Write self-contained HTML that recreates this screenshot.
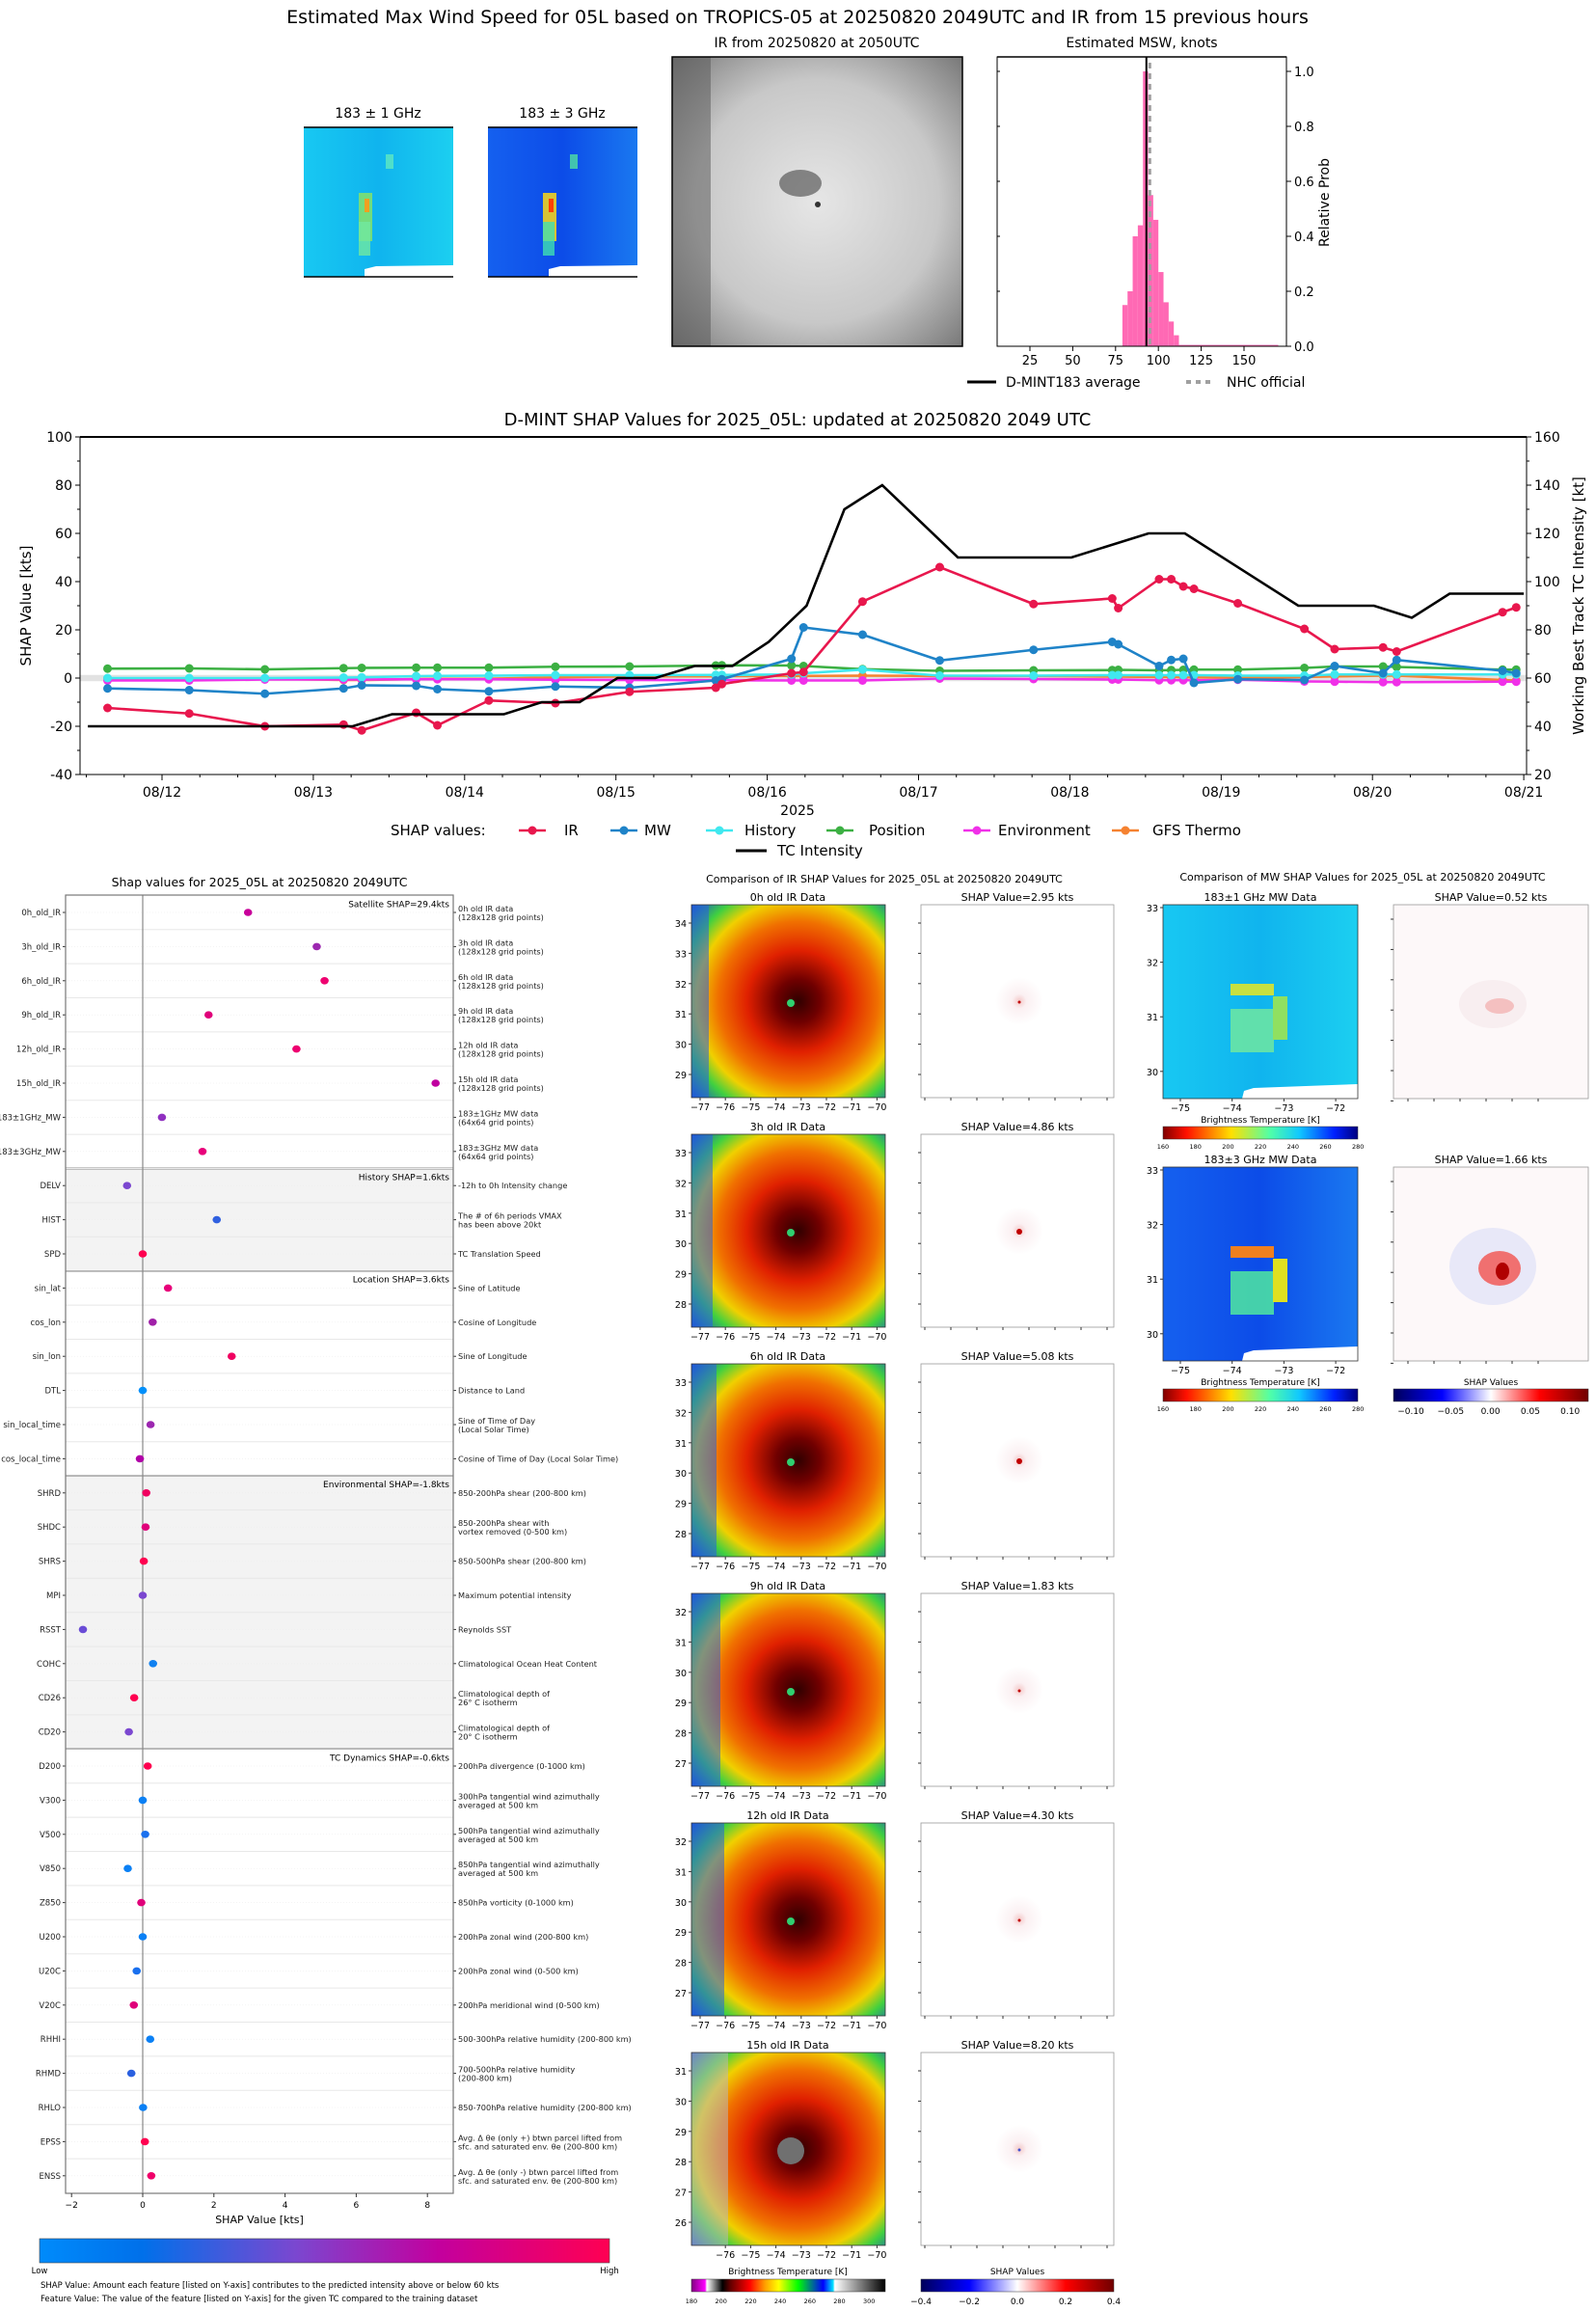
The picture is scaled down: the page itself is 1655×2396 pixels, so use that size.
<!DOCTYPE html>
<html><head><meta charset="utf-8">
<style>
html,body{margin:0;padding:0;background:#fff;}
svg{display:block;font-family:"DejaVu Sans","Liberation Sans",sans-serif;}
</style></head>
<body>
<svg id="root" width="1655" height="2396" viewBox="0 0 1655 2396" xmlns="http://www.w3.org/2000/svg">
<defs>
<linearGradient id="mw1" x1="0" y1="0" x2="1" y2="0"><stop offset="0" stop-color="#18c8f2"/><stop offset="0.5" stop-color="#10b4ee"/><stop offset="1" stop-color="#1ccff0"/></linearGradient>
<linearGradient id="mw3" x1="0" y1="0" x2="1" y2="0"><stop offset="0" stop-color="#1560ef"/><stop offset="0.5" stop-color="#0c4ce8"/><stop offset="1" stop-color="#1a78f0"/></linearGradient>
<radialGradient id="irgray" cx="0.5" cy="0.5" r="0.7"><stop offset="0" stop-color="#e6e6e6"/><stop offset="0.6" stop-color="#c8c8c8"/><stop offset="1" stop-color="#7a7a7a"/></radialGradient>
<radialGradient id="irc" cx="0.55" cy="0.5" r="0.75"><stop offset="0" stop-color="#300000"/><stop offset="0.15" stop-color="#700000"/><stop offset="0.35" stop-color="#e02000"/><stop offset="0.55" stop-color="#f07000"/><stop offset="0.7" stop-color="#f0d000"/><stop offset="0.82" stop-color="#40d040"/><stop offset="1" stop-color="#1040e0"/></radialGradient>
<radialGradient id="shapc" cx="0.5" cy="0.5" r="0.5"><stop offset="0" stop-color="#f4c8c8"/><stop offset="0.3" stop-color="#fbf0f2"/><stop offset="1" stop-color="#ffffff"/></radialGradient>
<linearGradient id="featcb" x1="0" y1="0" x2="1" y2="0"><stop offset="0" stop-color="#008bfb"/><stop offset="0.18" stop-color="#0070ea"/><stop offset="0.45" stop-color="#7b47d0"/><stop offset="0.7" stop-color="#c3009e"/><stop offset="1" stop-color="#ff0052"/></linearGradient>
<linearGradient id="jet" x1="0" y1="0" x2="1" y2="0"><stop offset="0" stop-color="#800000"/><stop offset="0.12" stop-color="#ff1000"/><stop offset="0.35" stop-color="#ffe000"/><stop offset="0.55" stop-color="#50ffa8"/><stop offset="0.7" stop-color="#10c8ff"/><stop offset="0.88" stop-color="#0020ff"/><stop offset="1" stop-color="#00007f"/></linearGradient>
<linearGradient id="bwr" x1="0" y1="0" x2="1" y2="0"><stop offset="0" stop-color="#00005a"/><stop offset="0.25" stop-color="#0000ff"/><stop offset="0.5" stop-color="#ffffff"/><stop offset="0.75" stop-color="#ff0000"/><stop offset="1" stop-color="#700000"/></linearGradient>
<linearGradient id="irtemp" x1="0" y1="0" x2="1" y2="0"><stop offset="0" stop-color="#800080"/><stop offset="0.07" stop-color="#ff00ff"/><stop offset="0.08" stop-color="#ffffff"/><stop offset="0.16" stop-color="#000000"/><stop offset="0.2" stop-color="#600000"/><stop offset="0.3" stop-color="#ff0000"/><stop offset="0.38" stop-color="#ffa000"/><stop offset="0.45" stop-color="#ffff00"/><stop offset="0.55" stop-color="#00ff00"/><stop offset="0.68" stop-color="#0000ff"/><stop offset="0.73" stop-color="#00e0ff"/><stop offset="0.74" stop-color="#ffffff"/><stop offset="1" stop-color="#000000"/></linearGradient>
</defs>
<g id="topg"></g>
<g id="main"></g>
<g id="feat"></g>
<g id="irp"></g>
<g id="mwp"></g>
</svg>
<script>
const NS="http://www.w3.org/2000/svg";
function mk(parent,tag,attrs,text){const e=document.createElementNS(NS,tag);for(const k in attrs)e.setAttribute(k,attrs[k]);if(text!==undefined)e.textContent=text;parent.appendChild(e);return e;}

/* ===== Main time-series chart data ===== */
const shapDays=[11.64,12.18,12.68,13.20,13.32,13.68,13.82,14.16,14.60,15.09,15.66,15.70,16.16,16.24,16.63,17.14,17.76,18.28,18.32,18.59,18.67,18.75,18.82,19.11,19.55,19.75,20.07,20.16,20.86,20.95];
const irVals=[-12.4,-14.7,-20,-19.3,-21.7,-14.4,-19.6,-9.3,-10.4,-5.7,-4,-2.5,2,2.5,31.7,46,30.7,33,29,41,41,38,37,31,20.4,12,12.7,11,27.3,29.3];
const mwVals=[-4.3,-5,-6.5,-4.3,-3,-3.2,-4.6,-5.5,-3.5,-4,-1,-0.5,8,21,18,7.3,11.7,15,14,5,7.5,8,-2,-0.5,-0.8,5,2,7.5,3,2];
const histVals=[0,0,0,0.2,0.3,0.8,0.9,1,1.2,1.2,1.3,1.3,1.5,2,3.5,1,1,1.2,1.2,1.2,1.2,1.2,1.2,1,1,1.5,1.5,1.5,1.5,1.5];
const posVals=[3.9,4,3.6,4.1,4.2,4.3,4.3,4.3,4.7,4.8,5.2,5.3,5.2,5,3.7,3,3.2,3.3,3.4,3.2,3.3,3.4,3.5,3.5,4.2,4.8,4.8,4.6,3.5,3.5];
const envVals=[-1,-1,-0.6,-0.6,-0.6,-0.5,-0.5,-0.5,-0.7,-0.8,-0.9,-0.9,-1,-1,-1,-0.2,-0.4,-0.6,-0.6,-0.9,-0.9,-0.9,-0.9,-0.7,-1.4,-1.5,-1.7,-1.7,-1.5,-1.5];
const gfsVals=[-0.2,-0.2,-0.3,-0.8,-0.8,-0.4,-0.3,-0.3,0.3,0.7,0.7,0.8,0.9,0.9,1,0.9,0.9,0.6,0.6,0.4,0.4,0.3,0.3,0.1,0.4,0.7,1,1,-0.8,-1];
const tcDays=[11.51,13.26,13.52,14.26,14.51,14.76,15.01,15.26,15.52,15.77,16.01,16.26,16.51,16.76,17.26,18.01,18.52,18.76,19.51,20.01,20.26,20.51,21.0];
const tcVals=[40,40,45,45,50,50,60,60,65,65,75,90,130,140,110,110,120,120,90,90,85,95,95];
const xTickLabels=["08/12","08/13","08/14","08/15","08/16","08/17","08/18","08/19","08/20","08/21"];
const yLeftTicks=[-40,-20,0,20,40,60,80,100];
const yRightTicks=[20,40,60,80,100,120,140,160];

/* ===== Histogram data ===== */
const histBinStart=[79,82,85,88,91,94,97,100,103,106,109,112];
const histProb=[0.15,0.2,0.40,0.44,1.0,0.55,0.46,0.27,0.16,0.09,0.04,0.005];
const histTicks=[25,50,75,100,125,150];
const histYTicks=[0,0.2,0.4,0.6,0.8,1.0];
const dmintAvg=93;
const nhcOfficial=95;

/* ===== Feature SHAP data ===== */
const featNames=["0h_old_IR","3h_old_IR","6h_old_IR","9h_old_IR","12h_old_IR","15h_old_IR","183±1GHz_MW","183±3GHz_MW","DELV","HIST","SPD","sin_lat","cos_lon","sin_lon","DTL","sin_local_time","cos_local_time","SHRD","SHDC","SHRS","MPI","RSST","COHC","CD26","CD20","D200","V300","V500","V850","Z850","U200","U20C","V20C","RHHI","RHMD","RHLO","EPSS","ENSS"];
const featVals=[2.96,4.89,5.11,1.85,4.32,8.23,0.54,1.68,-0.44,2.08,0,0.71,0.28,2.5,0,0.22,-0.08,0.1,0.08,0.03,0,-1.68,0.29,-0.24,-0.39,0.14,0,0.07,-0.42,-0.04,0,-0.17,-0.25,0.21,-0.32,0.01,0.06,0.24];
const featColors=["#c8009a","#9c27b0","#ee0070","#e0007a","#ee0070","#c000a0","#9030c0","#e8007a","#7b47d0","#3060e0","#ff0050","#e8007a","#a020a8","#f00060","#0090fb","#9c27b0","#b000a8","#f00060","#e0007a","#ff0050","#7b47d0","#6a4cd6","#1080f0","#ff0050","#7b47d0","#ff0050","#0a80f5","#1a70ee","#0a80f5","#e0007a","#0a80f5","#1a70ee","#e0007a","#0a80f5","#2a60e0","#0a80f5","#ff0050","#f0006a"];
const featDesc=[["0h old IR data","(128x128 grid points)"],["3h old IR data","(128x128 grid points)"],["6h old IR data","(128x128 grid points)"],["9h old IR data","(128x128 grid points)"],["12h old IR data","(128x128 grid points)"],["15h old IR data","(128x128 grid points)"],["183±1GHz MW data","(64x64 grid points)"],["183±3GHz MW data","(64x64 grid points)"],["-12h to 0h Intensity change"],["The # of 6h periods VMAX","has been above 20kt"],["TC Translation Speed"],["Sine of Latitude"],["Cosine of Longitude"],["Sine of Longitude"],["Distance to Land"],["Sine of Time of Day","(Local Solar Time)"],["Cosine of Time of Day (Local Solar Time)"],["850-200hPa shear (200-800 km)"],["850-200hPa shear with","vortex removed (0-500 km)"],["850-500hPa shear (200-800 km)"],["Maximum potential intensity"],["Reynolds SST"],["Climatological Ocean Heat Content"],["Climatological depth of","26° C isotherm"],["Climatological depth of","20° C isotherm"],["200hPa divergence (0-1000 km)"],["300hPa tangential wind azimuthally","averaged at 500 km"],["500hPa tangential wind azimuthally","averaged at 500 km"],["850hPa tangential wind azimuthally","averaged at 500 km"],["850hPa vorticity (0-1000 km)"],["200hPa zonal wind (200-800 km)"],["200hPa zonal wind (0-500 km)"],["200hPa meridional wind (0-500 km)"],["500-300hPa relative humidity (200-800 km)"],["700-500hPa relative humidity","(200-800 km)"],["850-700hPa relative humidity (200-800 km)"],["Avg. Δ θe (only +) btwn parcel lifted from","sfc. and saturated env. θe (200-800 km)"],["Avg. Δ θe (only -) btwn parcel lifted from","sfc. and saturated env. θe (200-800 km)"]];
const groupStart=[0,8,11,17,25];
const groupTitles=["Satellite SHAP=29.4kts","History SHAP=1.6kts","Location SHAP=3.6kts","Environmental SHAP=-1.8kts","TC Dynamics SHAP=-0.6kts"];
const groupShaded=[false,true,false,true,false];
const featXTicks=[-2,0,2,4,6,8];

/* ===== IR / MW panel labels ===== */
const irTitles=["0h old IR Data","3h old IR Data","6h old IR Data","9h old IR Data","12h old IR Data","15h old IR Data"];
const irShap=["SHAP Value=2.95 kts","SHAP Value=4.86 kts","SHAP Value=5.08 kts","SHAP Value=1.83 kts","SHAP Value=4.30 kts","SHAP Value=8.20 kts"];
const irLatTop=[34,33,33,32,32,31];
const irLonStart=[-77,-77,-77,-77,-77,-76];

/* ========== TOP SECTION ========== */
const topG=document.getElementById('topg');
let t=mk(topG,'text',{x:827,y:24,'text-anchor':'middle','font-size':19},'Estimated Max Wind Speed for 05L based on TROPICS-05 at 20250820 2049UTC and IR from 15 previous hours');


[[315,'url(#mw1)','183 ± 1 GHz','mw-183-1-image'],[506,'url(#mw3)','183 ± 3 GHz','mw-183-3-image']].forEach((p,i)=>{
  const g=mk(topG,'g',{});
  
  
  mk(g,'text',{x:p[0]+77,y:122,'text-anchor':'middle','font-size':14},p[2]);
  mk(g,'rect',{x:p[0],y:132,width:155,height:155,fill:p[1]});
  mk(g,'rect',{x:p[0]+57,y:200,width:14,height:50,fill:i?'#f0d020':'#7ee070',opacity:0.9});
  mk(g,'rect',{x:p[0]+57,y:230,width:12,height:35,fill:i?'#40e0b0':'#70e8a0',opacity:0.8});
  mk(g,'rect',{x:p[0]+85,y:160,width:8,height:15,fill:i?'#50e0a0':'#60e8c0',opacity:0.8});
  mk(g,'rect',{x:p[0]+63,y:206,width:5,height:14,fill:i?'#ff4000':'#f0a020'});
  mk(g,'polygon',{points:`${p[0]+63},287 ${p[0]+63},279 ${p[0]+75},276 ${p[0]+155},275 ${p[0]+155},287`,fill:'#fff'});
  mk(g,'line',{x1:p[0],y1:132,x2:p[0]+155,y2:132,stroke:'#000','stroke-width':1.5});
  mk(g,'line',{x1:p[0],y1:287,x2:p[0]+155,y2:287,stroke:'#000','stroke-width':1.5});
});
const irg=mk(topG,'g',{});


mk(irg,'text',{x:847,y:49,'text-anchor':'middle','font-size':14},'IR from 20250820 at 2050UTC');
mk(irg,'rect',{x:697,y:59,width:301,height:300,fill:'url(#irgray)'});
mk(irg,'rect',{x:697,y:59,width:40,height:300,fill:'#555',opacity:0.5});
mk(irg,'ellipse',{cx:830,cy:190,rx:22,ry:14,fill:'#444',opacity:0.6});
mk(irg,'circle',{cx:848,cy:212,r:3,fill:'#333'});
mk(irg,'rect',{x:697,y:59,width:301,height:300,fill:'none',stroke:'#000','stroke-width':1.5});
const hg=mk(topG,'g',{});


const hx=v=>1068+(v-25)*1.776, hy=p=>359-p*285;
mk(hg,'text',{x:1184,y:49,'text-anchor':'middle','font-size':14},'Estimated MSW, knots');
histBinStart.forEach((b,i)=>{
  const w=(i===histBinStart.length-1)?58:3;
  const r=mk(hg,'rect',{x:hx(b),y:hy(histProb[i]),width:hx(b+w)-hx(b),height:359-hy(histProb[i]),fill:'#ff69b4'});
  
  
});
const ml=mk(hg,'line',{x1:hx(nhcOfficial),y1:65,x2:hx(nhcOfficial),y2:359,stroke:'#a0a0a0','stroke-width':3,'stroke-dasharray':'6,5'});


const al=mk(hg,'line',{x1:hx(dmintAvg),y1:59,x2:hx(dmintAvg),y2:359,stroke:'#000','stroke-width':2});


mk(hg,'rect',{x:1034,y:59,width:300,height:300,fill:'none',stroke:'#000','stroke-width':1});
mk(hg,'line',{x1:1034,y1:59,x2:1334,y2:59,stroke:'#000','stroke-width':1.5});
histTicks.forEach(v=>{mk(hg,'line',{x1:hx(v),y1:359,x2:hx(v),y2:364,stroke:'#000'});mk(hg,'text',{x:hx(v),y:378,'text-anchor':'middle','font-size':13},v);});
histYTicks.forEach(v=>{mk(hg,'line',{x1:1334,y1:hy(v),x2:1339,y2:hy(v),stroke:'#000'});mk(hg,'line',{x1:1034,y1:hy(v),x2:1037,y2:hy(v),stroke:'#000'});mk(hg,'text',{x:1342,y:hy(v)+5,'font-size':13},v.toFixed(1));});
mk(hg,'text',{x:0,y:0,transform:'translate(1378,210) rotate(-90)','text-anchor':'middle','font-size':14},'Relative Prob');
const hl=mk(hg,'g',{});


mk(hl,'line',{x1:1003,y1:396,x2:1033,y2:396,stroke:'#000','stroke-width':3});
mk(hl,'text',{x:1043,y:401,'font-size':14},'D-MINT183 average');
mk(hl,'line',{x1:1230,y1:396,x2:1260,y2:396,stroke:'#a0a0a0','stroke-width':4,'stroke-dasharray':'5,5'});
mk(hl,'text',{x:1272,y:401,'font-size':14},'NHC official');

/* ========== MAIN CHART ========== */
const mainG=document.getElementById('main');
const X0=83,X1=1583,Y0=453,Y1=803;
const xs=d=>168+(d-12)*156.9;
const ys=v=>Y0+(100-v)*2.5;
const yr=v=>Y0+(160-v)*2.5;
t=mk(mainG,'text',{x:827,y:441,'text-anchor':'middle','font-size':18},'D-MINT SHAP Values for 2025_05L: updated at 20250820 2049 UTC');


mk(mainG,'rect',{x:X0,y:ys(1.3),width:X1-X0,height:ys(-1.3)-ys(1.3),fill:'#e2e2e2'});
mk(mainG,'rect',{x:X0,y:Y0,width:X1-X0,height:Y1-Y0,fill:'none',stroke:'#000','stroke-width':1});
mk(mainG,'line',{x1:X0,y1:Y0,x2:X1,y2:Y0,stroke:'#000','stroke-width':2});
yLeftTicks.forEach(v=>{mk(mainG,'line',{x1:X0-5,y1:ys(v),x2:X0,y2:ys(v),stroke:'#000'});mk(mainG,'text',{x:X0-8,y:ys(v)+5,'text-anchor':'end','font-size':14},v);});
for(let v=-30;v<100;v+=20)mk(mainG,'line',{x1:X0-3,y1:ys(v),x2:X0,y2:ys(v),stroke:'#000'});
yRightTicks.forEach(v=>{mk(mainG,'line',{x1:X1,y1:yr(v),x2:X1+5,y2:yr(v),stroke:'#000'});mk(mainG,'text',{x:X1+8,y:yr(v)+5,'font-size':14},v);});
for(let v=30;v<160;v+=20)mk(mainG,'line',{x1:X1,y1:yr(v),x2:X1+3,y2:yr(v),stroke:'#000'});
xTickLabels.forEach((l,i)=>{const x=xs(12+i);mk(mainG,'line',{x1:x,y1:Y1,x2:x,y2:Y1+6,stroke:'#000'});mk(mainG,'text',{x:x,y:Y1+23,'text-anchor':'middle','font-size':14},l);});
for(let d=11.5;d<21;d+=0.25){if(Math.abs(d-Math.round(d))>0.01)mk(mainG,'line',{x1:xs(d),y1:Y1,x2:xs(d),y2:Y1+3,stroke:'#000'});}
mk(mainG,'text',{x:827,y:845,'text-anchor':'middle','font-size':14},'2025');
mk(mainG,'text',{x:0,y:0,transform:'translate(32,628) rotate(-90)','text-anchor':'middle','font-size':15},'SHAP Value [kts]');
mk(mainG,'text',{x:0,y:0,transform:'translate(1642,628) rotate(-90)','text-anchor':'middle','font-size':15},'Working Best Track TC Intensity [kt]');
const series=[["IR",irVals,"#e8174d"],["MW",mwVals,"#1f83c8"],["History",histVals,"#40e8ef"],["Position",posVals,"#3cb043"],["Environment",envVals,"#f030e8"],["GFS Thermo",gfsVals,"#f58231"]];
series.slice().reverse().forEach(s=>{
  const g=mk(mainG,'g',{});
  
  
  mk(g,'polyline',{points:shapDays.map((d,i)=>xs(d)+','+ys(s[1][i])).join(' '),fill:'none',stroke:s[2],'stroke-width':2.6});
  shapDays.forEach((d,i)=>{
    const c=mk(g,'circle',{cx:xs(d),cy:ys(s[1][i]),r:4.5,fill:s[2]});
    
    
  });
});
const tcl=mk(mainG,'polyline',{points:tcDays.map((d,i)=>xs(d)+','+yr(tcVals[i])).join(' '),fill:'none',stroke:'#000','stroke-width':2.6});


const lg=mk(mainG,'g',{});


mk(lg,'text',{x:405,y:866,'font-size':15},'SHAP values:');
const legX=[[538,585],[633,668],[732,772],[857,901],[999,1035],[1153,1195]];
series.forEach((s,i)=>{
  const e=mk(lg,'g',{});
  
  
  mk(e,'line',{x1:legX[i][0],y1:861,x2:legX[i][0]+28,y2:861,stroke:s[2],'stroke-width':2.6});
  mk(e,'circle',{cx:legX[i][0]+14,cy:861,r:4.5,fill:s[2]});
  mk(e,'text',{x:legX[i][1],y:866,'font-size':15},s[0]);
});
mk(lg,'line',{x1:763,y1:882,x2:795,y2:882,stroke:'#000','stroke-width':3});
mk(lg,'text',{x:806,y:887,'font-size':15},'TC Intensity');

/* ========== FEATURE SHAP PANEL ========== */
const fe=document.getElementById('feat');
const FX0=68,FX1=470,FT=928,FB=2274,RS=35.4;
const fx=v=>148+v*36.9, fy=i=>946+i*RS;
t=mk(fe,'text',{x:269,y:919,'text-anchor':'middle','font-size':12.5},'Shap values for 2025_05L at 20250820 2049UTC');


groupStart.forEach((s,gi)=>{
  const e=(gi<groupStart.length-1)?groupStart[gi+1]:featNames.length;
  const y0=fy(s)-RS/2,y1=fy(e)-RS/2;
  if(groupShaded[gi])mk(fe,'rect',{x:FX0,y:y0,width:FX1-FX0,height:y1-y0,fill:'#f3f3f3'});
  const tt=mk(fe,'text',{x:FX1-4,y:y0+12,'text-anchor':'end','font-size':9},groupTitles[gi]);
  
  
  if(gi>0)mk(fe,'line',{x1:FX0,y1:y0,x2:FX1,y2:y0,stroke:'#222','stroke-width':1.5});
});
featNames.forEach((n,i)=>{
  const y=fy(i);
  if(i>0)mk(fe,'line',{x1:FX0,y1:y-RS/2,x2:FX1,y2:y-RS/2,stroke:'#e8e8e8','stroke-width':1});
  mk(fe,'line',{x1:FX0,y1:y,x2:FX1,y2:y,stroke:'#eee','stroke-width':0.6,'stroke-dasharray':'1,2'});
  mk(fe,'line',{x1:FX0-3,y1:y,x2:FX0,y2:y,stroke:'#333'});
  mk(fe,'line',{x1:FX1,y1:y,x2:FX1+3,y2:y,stroke:'#333'});
  const lab=mk(fe,'text',{x:FX0-5,y:y+3,'text-anchor':'end','font-size':8.5,fill:'#222'},n);
  
  
  const d=featDesc[i];
  if(d.length===1)mk(fe,'text',{x:FX1+5,y:y+3,'font-size':8.2,fill:'#222'},d[0]);
  else{mk(fe,'text',{x:FX1+5,y:y-1,'font-size':8.2,fill:'#222'},d[0]);mk(fe,'text',{x:FX1+5,y:y+8,'font-size':8.2,fill:'#222'},d[1]);}
});
mk(fe,'line',{x1:fx(0),y1:FT,x2:fx(0),y2:FB,stroke:'#888','stroke-width':1.2});
featNames.forEach((n,i)=>{
  const c=mk(fe,'ellipse',{cx:fx(featVals[i]),cy:fy(i),rx:4.3,ry:3.8,fill:featColors[i]});
  
  
});
mk(fe,'rect',{x:FX0,y:FT,width:FX1-FX0,height:FB-FT,fill:'none',stroke:'#777','stroke-width':1.2});
featXTicks.forEach(v=>{mk(fe,'line',{x1:fx(v),y1:FB,x2:fx(v),y2:FB+4,stroke:'#333'});mk(fe,'text',{x:fx(v),y:FB+15,'text-anchor':'middle','font-size':9},v===-2?'−2':v);});
mk(fe,'text',{x:269,y:FB+31,'text-anchor':'middle','font-size':11},'SHAP Value [kts]');
const fcb=mk(fe,'rect',{x:41,y:2321,width:591,height:25,fill:'url(#featcb)',stroke:'#444','stroke-width':0.6});


mk(fe,'text',{x:41,y:2357,'text-anchor':'middle','font-size':8.5},'Low');
mk(fe,'text',{x:632,y:2357,'text-anchor':'middle','font-size':8.5},'High');
mk(fe,'text',{x:42,y:2372,'font-size':8.5},'SHAP Value: Amount each feature [listed on Y-axis] contributes to the predicted intensity above or below 60 kts');
mk(fe,'text',{x:42,y:2386,'font-size':8.5},'Feature Value: The value of the feature [listed on Y-axis] for the given TC compared to the training dataset');

/* ========== IR PANELS ========== */
const irG=document.getElementById('irp');
t=mk(irG,'text',{x:917,y:915,'text-anchor':'middle','font-size':11},'Comparison of IR SHAP Values for 2025_05L at 20250820 2049UTC');


irTitles.forEach((tt,i)=>{
  const y=938+i*238;
  const g=mk(irG,'g',{});
  
  
  mk(g,'text',{x:817,y:y-4,'text-anchor':'middle','font-size':11},tt);
  mk(g,'rect',{x:717,y:y,width:201,height:200,fill:'url(#irc)'});
  mk(g,'rect',{x:717,y:y,width:18+i*4,height:200,fill:i===5?'#b8b8b8':'#2860e0',opacity:0.55});
  mk(g,'circle',{cx:820,cy:y+102,r:i===5?14:4,fill:i===5?'#707070':'#30d070'});
  mk(g,'rect',{x:717,y:y,width:201,height:200,fill:'none',stroke:'#333','stroke-width':0.8});
  for(let k=0;k<6;k++){const ly=y+19+k*31.4;if(ly>y+198)break;mk(g,'line',{x1:714,y1:ly,x2:717,y2:ly,stroke:'#333'});mk(g,'text',{x:712,y:ly+4,'text-anchor':'end','font-size':9.5},irLatTop[i]-k);}
  for(let k=0;k<8;k++){const lx=726+k*26.2+(irLonStart[i]+77)*26.2;if(lx>918)break;mk(g,'line',{x1:lx,y1:y+200,x2:lx,y2:y+203,stroke:'#333'});mk(g,'text',{x:lx,y:y+213,'text-anchor':'middle','font-size':9.5},'−'+(-(irLonStart[i]+k)));}
  const s=mk(irG,'g',{});
  
  
  mk(s,'text',{x:1055,y:y-4,'text-anchor':'middle','font-size':11},irShap[i]);
  mk(s,'rect',{x:955,y:y,width:200,height:200,fill:'#fff',stroke:'#999','stroke-width':0.8});
  mk(s,'circle',{cx:1057,cy:y+100,r:25,fill:'url(#shapc)'});
  mk(s,'circle',{cx:1057,cy:y+101,r:i===1||i===2?3:1.5,fill:i===5?'#4050d0':'#c00000'});
  for(let k=0;k<6;k++)mk(s,'line',{x1:952,y1:y+19+k*31.4,x2:955,y2:y+19+k*31.4,stroke:'#333'});
  for(let k=0;k<8;k++)mk(s,'line',{x1:959+k*27,y1:y+200,x2:959+k*27,y2:y+203,stroke:'#333'});
});
mk(irG,'text',{x:817,y:2358,'text-anchor':'middle','font-size':9},'Brightness Temperature [K]');
const ircb=mk(irG,'rect',{x:717,y:2363,width:201,height:13,fill:'url(#irtemp)',stroke:'#333','stroke-width':0.5});


[180,200,220,240,260,280,300].forEach((v,k)=>mk(irG,'text',{x:717+k*30.7,y:2388,'text-anchor':'middle','font-size':6.5},v));
mk(irG,'text',{x:1055,y:2358,'text-anchor':'middle','font-size':9},'SHAP Values');
const iscb=mk(irG,'rect',{x:955,y:2363,width:200,height:13,fill:'url(#bwr)',stroke:'#333','stroke-width':0.5});


["−0.4","−0.2","0.0","0.2","0.4"].forEach((v,k)=>mk(irG,'text',{x:955+k*50,y:2389,'text-anchor':'middle','font-size':9},v));

/* ========== MW PANELS ========== */
const mwG=document.getElementById('mwp');
t=mk(mwG,'text',{x:1413,y:913,'text-anchor':'middle','font-size':11},'Comparison of MW SHAP Values for 2025_05L at 20250820 2049UTC');


[[938,'183±1 GHz MW Data','SHAP Value=0.52 kts','url(#mw1)'],[1210,'183±3 GHz MW Data','SHAP Value=1.66 kts','url(#mw3)']].forEach((p,i)=>{
  const y=p[0];
  const g=mk(mwG,'g',{});
  
  
  mk(g,'text',{x:1307,y:y-4,'text-anchor':'middle','font-size':11},p[1]);
  mk(g,'rect',{x:1206,y:y,width:202,height:201,fill:p[3]});
  mk(g,'rect',{x:1276,y:y+82,width:45,height:12,fill:i?'#f08020':'#c8e040'});
  mk(g,'rect',{x:1276,y:y+108,width:45,height:45,fill:i?'#50e8a0':'#70e8a0',opacity:0.85});
  mk(g,'rect',{x:1320,y:y+95,width:15,height:45,fill:i?'#e0e020':'#90e060'});
  mk(g,'polygon',{points:`1288,${y+201} 1290,${y+193} 1300,${y+190} 1408,${y+186} 1408,${y+201}`,fill:'#fff'});
  mk(g,'rect',{x:1206,y:y,width:202,height:201,fill:'none',stroke:'#333','stroke-width':0.8});
  [33,32,31,30].forEach((v,k)=>{const ly=y+3+k*56.6;mk(g,'line',{x1:1203,y1:ly,x2:1206,y2:ly,stroke:'#333'});mk(g,'text',{x:1201,y:ly+4,'text-anchor':'end','font-size':9.5},v);});
  [-75,-74,-73,-72].forEach((v,k)=>{const lx=1224+k*53.7;mk(g,'line',{x1:lx,y1:y+201,x2:lx,y2:y+204,stroke:'#333'});mk(g,'text',{x:lx,y:y+214,'text-anchor':'middle','font-size':9.5},'−'+(-v));});
  mk(g,'text',{x:1307,y:y+226,'text-anchor':'middle','font-size':9},'Brightness Temperature [K]');
  const cb=mk(g,'rect',{x:1206,y:y+230,width:202,height:13,fill:'url(#jet)',stroke:'#333','stroke-width':0.5});
  
  
  [160,180,200,220,240,260,280].forEach((v,k)=>mk(g,'text',{x:1206+k*33.7,y:y+253,'text-anchor':'middle','font-size':6.5},v));
  const s=mk(mwG,'g',{});
  
  
  mk(s,'text',{x:1546,y:y-4,'text-anchor':'middle','font-size':11},p[2]);
  mk(s,'rect',{x:1445,y:y,width:202,height:201,fill:'#fdf8f9',stroke:'#999','stroke-width':0.8});
  mk(s,'ellipse',{cx:1548,cy:y+103,rx:i?45:35,ry:i?40:25,fill:i?'#e8e8f8':'#f8eef0'});
  mk(s,'ellipse',{cx:1555,cy:y+105,rx:i?22:15,ry:i?18:8,fill:i?'#f07070':'#f4c0c0'});
  if(i)mk(s,'ellipse',{cx:1558,cy:y+108,rx:7,ry:9,fill:'#b00000'});
  for(let k=0;k<7;k++)mk(s,'line',{x1:1442,y1:y+15+k*31.4,x2:1445,y2:y+15+k*31.4,stroke:'#333'});
  for(let k=0;k<6;k++)mk(s,'line',{x1:1460+k*27,y1:y+201,x2:1460+k*27,y2:y+204,stroke:'#333'});
});
mk(mwG,'text',{x:1546,y:1436,'text-anchor':'middle','font-size':9},'SHAP Values');
const mscb=mk(mwG,'rect',{x:1445,y:1440,width:202,height:13,fill:'url(#bwr)',stroke:'#333','stroke-width':0.5});


["−0.10","−0.05","0.00","0.05","0.10"].forEach((v,k)=>mk(mwG,'text',{x:1463+k*41.3,y:1466,'text-anchor':'middle','font-size':9},v));
</script>
</body></html>
